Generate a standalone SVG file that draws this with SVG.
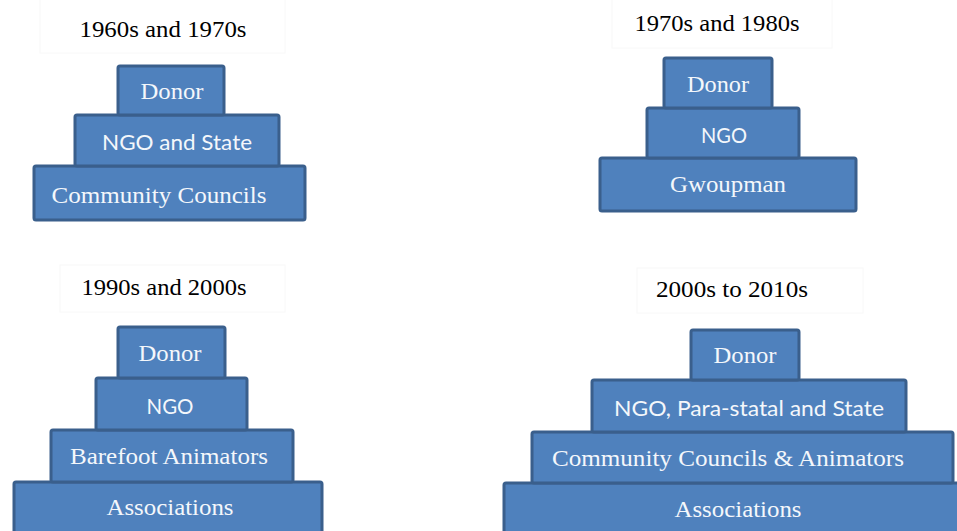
<svg xmlns="http://www.w3.org/2000/svg" width="957" height="531" viewBox="0 0 957 531">
<style>
.bg{fill:#ffffff}
.tb{fill:#ffffff;stroke:#f8f8f8;stroke-width:1}
.title{font-family:"Liberation Serif","Times New Roman",serif;font-size:24px;fill:#000000;text-anchor:middle}
.box{fill:#4f81bd;stroke:#3a5f8c;stroke-width:3}
.serif{font-family:"Liberation Serif","Times New Roman",serif;font-size:24px;fill:#f4f7fb;text-anchor:middle}
.sans{font-family:Lato,"Open Sans","Liberation Sans",sans-serif;font-size:22px;fill:#f4f7fb;text-anchor:middle}
</style>
<rect class="bg" x="0" y="0" width="957" height="531"/>

<g id="title-1960s">
<rect class="tb" x="40" y="-2" width="245" height="55"/>
<text class="title" x="163" y="37" textLength="167" lengthAdjust="spacingAndGlyphs">1960s and 1970s</text>
</g>
<g id="p1-councils">
<rect class="box" x="34" y="166" width="271" height="54" rx="2"/>
<text class="serif" x="159" y="203" textLength="215" lengthAdjust="spacingAndGlyphs">Community Councils</text>
</g>
<g id="p1-ngo">
<rect class="box" x="75" y="115" width="204" height="51" rx="2"/>
<text class="sans" x="177" y="150" textLength="150" lengthAdjust="spacingAndGlyphs">NGO and State</text>
</g>
<g id="p1-donor">
<rect class="box" x="118" y="66" width="106" height="49" rx="2"/>
<text class="serif" x="172" y="99" textLength="63" lengthAdjust="spacingAndGlyphs">Donor</text>
</g>

<g id="title-1970s">
<rect class="tb" x="612" y="-2" width="220" height="50"/>
<text class="title" x="717" y="31" textLength="165" lengthAdjust="spacingAndGlyphs">1970s and 1980s</text>
</g>
<g id="p2-gwoupman">
<rect class="box" x="600" y="158" width="256" height="53" rx="2"/>
<text class="serif" x="728" y="192" textLength="116" lengthAdjust="spacingAndGlyphs">Gwoupman</text>
</g>
<g id="p2-ngo">
<rect class="box" x="647" y="108" width="152" height="50" rx="2"/>
<text class="sans" x="724" y="143" textLength="46" lengthAdjust="spacingAndGlyphs">NGO</text>
</g>
<g id="p2-donor">
<rect class="box" x="664" y="58" width="108" height="50" rx="2"/>
<text class="serif" x="718" y="92" textLength="62" lengthAdjust="spacingAndGlyphs">Donor</text>
</g>

<g id="title-1990s">
<rect class="tb" x="60" y="265" width="225" height="47"/>
<text class="title" x="164" y="295" textLength="165" lengthAdjust="spacingAndGlyphs">1990s and 2000s</text>
</g>
<g id="p3-associations">
<rect class="box" x="14" y="482" width="308" height="60" rx="2"/>
<text class="serif" x="170" y="515" textLength="127" lengthAdjust="spacingAndGlyphs">Associations</text>
</g>
<g id="p3-barefoot">
<rect class="box" x="51" y="430" width="242" height="52" rx="2"/>
<text class="serif" x="169" y="464" textLength="198" lengthAdjust="spacingAndGlyphs">Barefoot Animators</text>
</g>
<g id="p3-ngo">
<rect class="box" x="96" y="378" width="151" height="52" rx="2"/>
<text class="sans" x="170" y="414" textLength="47" lengthAdjust="spacingAndGlyphs">NGO</text>
</g>
<g id="p3-donor">
<rect class="box" x="118" y="327" width="107" height="51" rx="2"/>
<text class="serif" x="170" y="361" textLength="63" lengthAdjust="spacingAndGlyphs">Donor</text>
</g>

<g id="title-2000s">
<rect class="tb" x="637" y="268" width="226" height="45"/>
<text class="title" x="732" y="297" textLength="152" lengthAdjust="spacingAndGlyphs">2000s to 2010s</text>
</g>
<g id="p4-associations">
<rect class="box" x="504" y="483" width="470" height="60" rx="2"/>
<text class="serif" x="738" y="517" textLength="127" lengthAdjust="spacingAndGlyphs">Associations</text>
</g>
<g id="p4-councils">
<rect class="box" x="532" y="432" width="421" height="51" rx="2"/>
<text class="serif" x="728" y="466" textLength="352" lengthAdjust="spacingAndGlyphs">Community Councils &amp; Animators</text>
</g>
<g id="p4-ngo">
<rect class="box" x="592" y="380" width="314" height="52" rx="2"/>
<text class="sans" x="749" y="416" textLength="270" lengthAdjust="spacingAndGlyphs">NGO, Para-statal and State</text>
</g>
<g id="p4-donor">
<rect class="box" x="691" y="330" width="108" height="50" rx="2"/>
<text class="serif" x="745" y="363" textLength="63" lengthAdjust="spacingAndGlyphs">Donor</text>
</g>

<g id="connectors"></g>
</svg>
